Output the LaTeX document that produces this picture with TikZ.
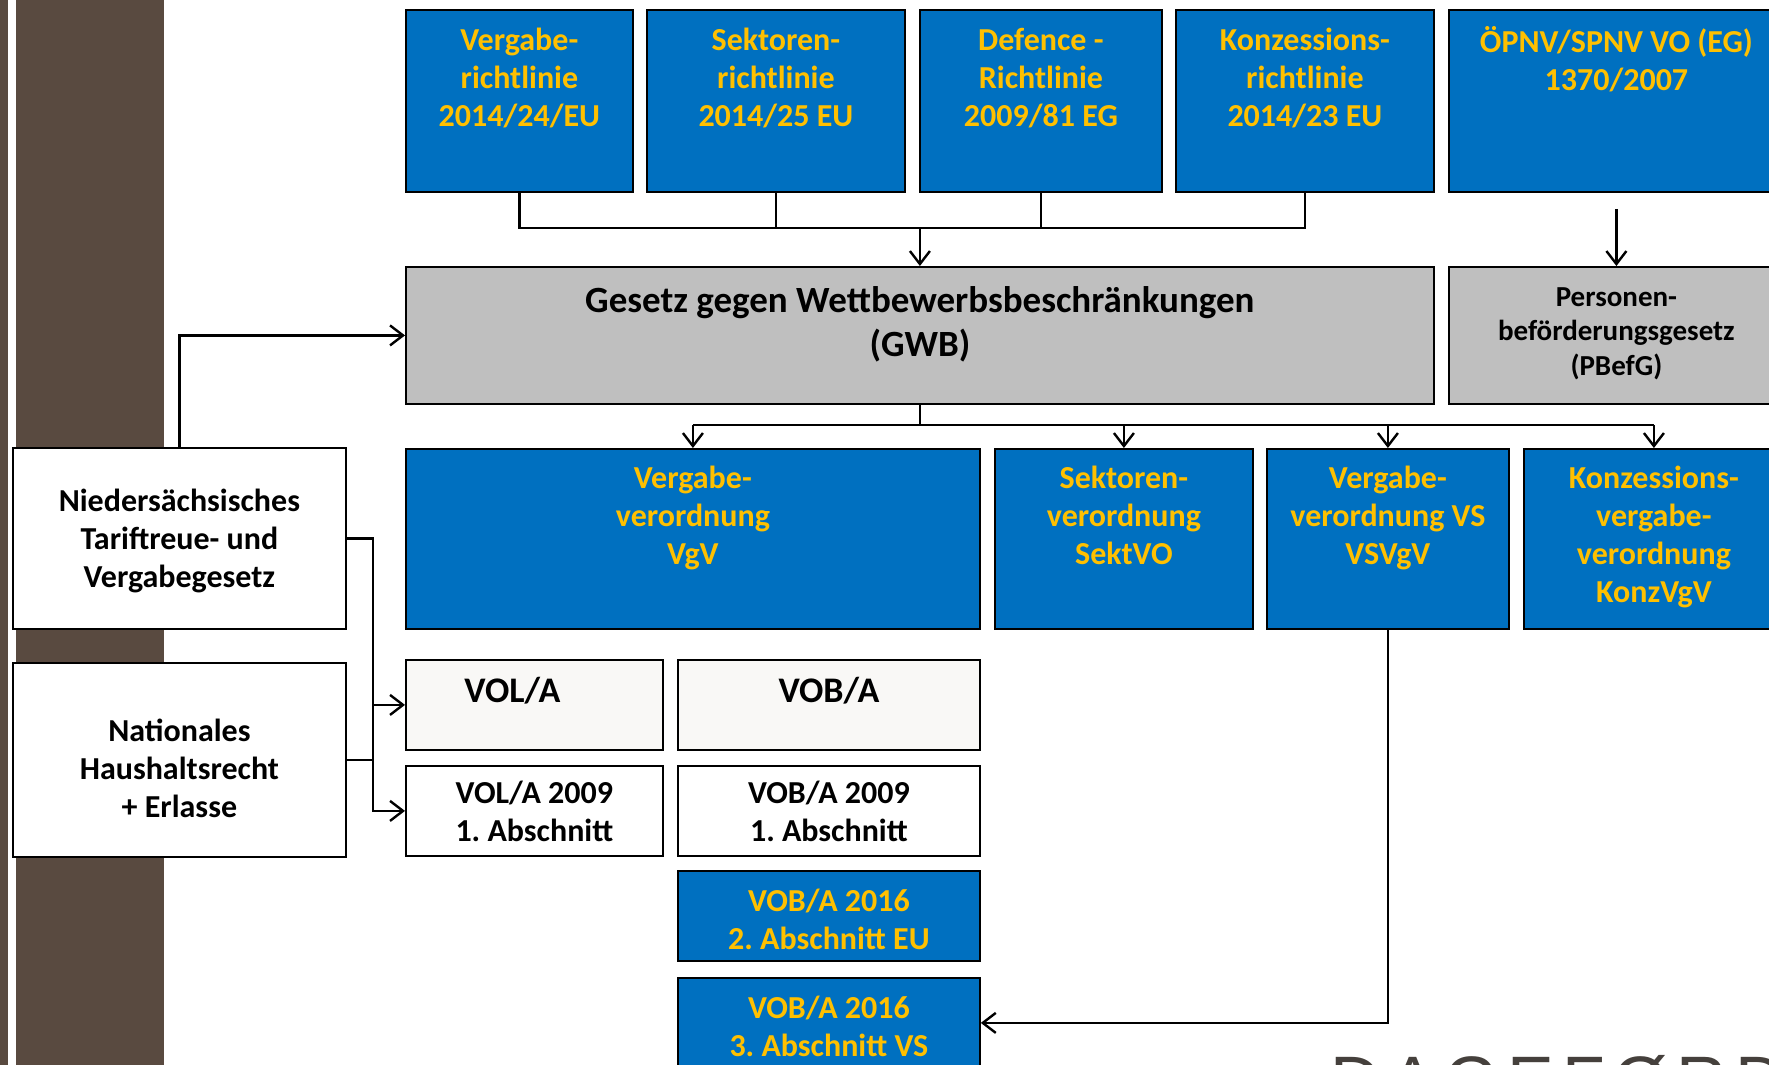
\documentclass[tikz,border=0pt]{standalone}
\usepackage{fontspec}
\setmainfont{Carlito}
\newfontfamily\logofont[LetterSpace=12]{Liberation Sans}
\usetikzlibrary{positioning, arrows.meta, calc}
\definecolor{lawblue}{HTML}{0070C0}
\definecolor{lawgold}{HTML}{FFC000}
\definecolor{lawgray}{HTML}{BFBFBF}
\definecolor{paper}{HTML}{F9F8F6}
\definecolor{umber}{HTML}{594A40}
\definecolor{logogray}{HTML}{45403C}
\frenchspacing
\tikzset{
  wire/.style={line width=2.4pt, draw=black},
  arr/.style={wire, -{Straight Barb[length=13pt,width=20pt]}},
  wh/.style 2 args={minimum width=#1pt, minimum height=#2pt},
  box/.style={draw=black, line width=1.8pt, anchor=north west, inner sep=0pt, align=center,
    font=\bfseries\fontsize{32}{38}\selectfont},
  blubox/.style={box, fill=lawblue, text=lawgold},
  grybox/.style={box, fill=lawgray},
  whtbox/.style={box, fill=white},
  papbox/.style={box, fill=paper},
  gold/.style={text=lawgold, align=center, inner sep=0pt, font=\bfseries\fontsize{32}{38}\selectfont},
  ink/.style={text=black, align=center, inner sep=0pt, font=\bfseries\fontsize{32}{38}\selectfont},
  big/.style={font=\bfseries\fontsize{37}{44}\selectfont},
  head/.style={font=\bfseries\fontsize{36}{42}\selectfont}
}

\begin{document}
\begin{tikzpicture}[x=1pt, y=-1pt]
\useasboundingbox (0,0) rectangle (1769,1065);
\fill[umber] (0,0) rectangle (8,1065);
\fill[umber] (16,0) rectangle (164,1065);

% EU-Richtlinien
\node[blubox, wh={227}{182}] (vrl) at (405,9) {};
\node[gold, below=19pt of vrl.north] (vrl-t) {Vergabe-\\richtlinie\\2014/24/EU};
\node[blubox, wh={258}{182}] (srl) at (646,9) {};
\node[gold, below=19pt of srl.north] (srl-t) {Sektoren-\\richtlinie\\2014/25 EU};
\node[blubox, wh={242}{182}] (drl) at (919,9) {};
\node[gold, below=19pt of drl.north] (drl-t) {Defence -\\Richtlinie\\2009/81 EG};
\node[blubox, wh={258}{182}] (krl) at (1175,9) {};
\node[gold, below=19pt of krl.north] (krl-t) {Konzessions-\\richtlinie\\2014/23 EU};
\node[blubox, wh={335}{182}] (oepnv) at (1448,9) {};
\node[gold, below=17pt of oepnv.north] (oepnv-t) {ÖPNV/SPNV VO (EG)\\1370/2007};

% Gesetze
\node[grybox, wh={1028}{137}] (gwb) at (405,266) {};
\node[ink, big, below=20pt of gwb.north] (gwb-t) {Gesetz gegen Wettbewerbsbeschränkungen\\(GWB)};
\node[grybox, wh={335}{137}] (pbefg) at (1448,266) {};
\node[ink, font=\bfseries\fontsize{29}{34.5}\selectfont, yshift=2pt] (pbefg-t) at (pbefg)
  {Personen-\\beförderungsgesetz\\(PBefG)};

% Verordnungen
\node[blubox, wh={574}{180}] (vgv) at (405,448) {};
\node[gold, below=18pt of vgv.north] (vgv-t) {Vergabe-\\verordnung\\VgV};
\node[blubox, wh={258}{180}] (sektvo) at (994,448) {};
\node[gold, below=18pt of sektvo.north] (sektvo-t) {Sektoren-\\verordnung\\SektVO};
\node[blubox, wh={242}{180}] (vsvgv) at (1266,448) {};
\node[gold, below=18pt of vsvgv.north] (vsvgv-t) {Vergabe-\\verordnung VS\\VSVgV};
\node[blubox, wh={260}{180}] (konzvgv) at (1523,448) {};
\node[gold, below=18pt of konzvgv.north] (konzvgv-t) {Konzessions-\\vergabe-\\verordnung\\KonzVgV};

% Landesrecht
\node[whtbox, wh={333}{181}] (nds) at (12,447) {};
\node[ink, yshift=-3pt] (nds-t) at (nds) {Niedersächsisches\\Tariftreue- und\\Vergabegesetz};
\node[whtbox, wh={333}{194}] (nhr) at (12,662) {};
\node[ink, yshift=-8pt] (nhr-t) at (nhr) {Nationales\\Haushaltsrecht\\+ Erlasse};

% Vergabeordnungen
\node[papbox, wh={257}{90}] (vola) at (405,659) {};
\node[ink, head, anchor=base] (vola-t) at ($(vola.north)+(-22,43)$) {VOL/A};
\node[papbox, wh={302}{90}] (voba) at (677,659) {};
\node[ink, head, anchor=base] (voba-t) at ($(voba.north)+(0,43)$) {VOB/A};
\node[whtbox, wh={257}{90}] (vola9) at (405,765) {VOL/A 2009\\1. Abschnitt};
\node[whtbox, wh={302}{90}] (voba9) at (677,765) {VOB/A 2009\\1. Abschnitt};
\node[blubox, wh={302}{90}] (vobeu) at (677,870) {};
\node[gold, yshift=-3pt] (vobeu-t) at (vobeu) {VOB/A 2016\\2. Abschnitt EU};
\node[blubox, wh={302}{90}] (vobvs) at (677,977) {};
\node[gold, yshift=-3pt] (vobvs-t) at (vobvs) {VOB/A 2016\\3. Abschnitt VS};

\node[text=logogray, anchor=north west, inner sep=0pt, font=\logofont\fontsize{70}{70}\selectfont]
  (logo) at (1330,1055) {DAGEFØRDE};

% Verbindungen
\coordinate (topbus) at (0,228);
\coordinate (midbus) at (0,425);
\coordinate (jn) at (373,0);
\draw[wire] (vrl.south) |- (krl.south |- topbus) -- (krl.south);
\draw[wire] (srl.south) -- (srl.south |- topbus);
\draw[wire] (drl.south) -- (drl.south |- topbus);
\draw[arr] (gwb.north |- topbus) -- (gwb.north);
\draw[arr] ([yshift=-16pt]oepnv.south) -- (pbefg.north);
\draw[wire] (gwb.south) -- (gwb.south |- midbus);
\draw[wire] (vgv.north |- midbus) -- (konzvgv.north |- midbus);
\foreach \n in {vgv, sektvo, vsvgv, konzvgv}
  \draw[arr] (\n.north |- midbus) -- (\n.north);
\draw[arr] (nds.north) |- (gwb.west);
\draw[arr] (nds.east) -- (nds.east -| jn) |- (vola9.west);
\draw[wire] (nhr.east) -- (nhr.east -| jn);
\draw[arr] (jn |- vola.west) -- (vola.west);
\draw[arr] (vsvgv.south) |- (vobvs.east);
\end{tikzpicture}
\end{document}
